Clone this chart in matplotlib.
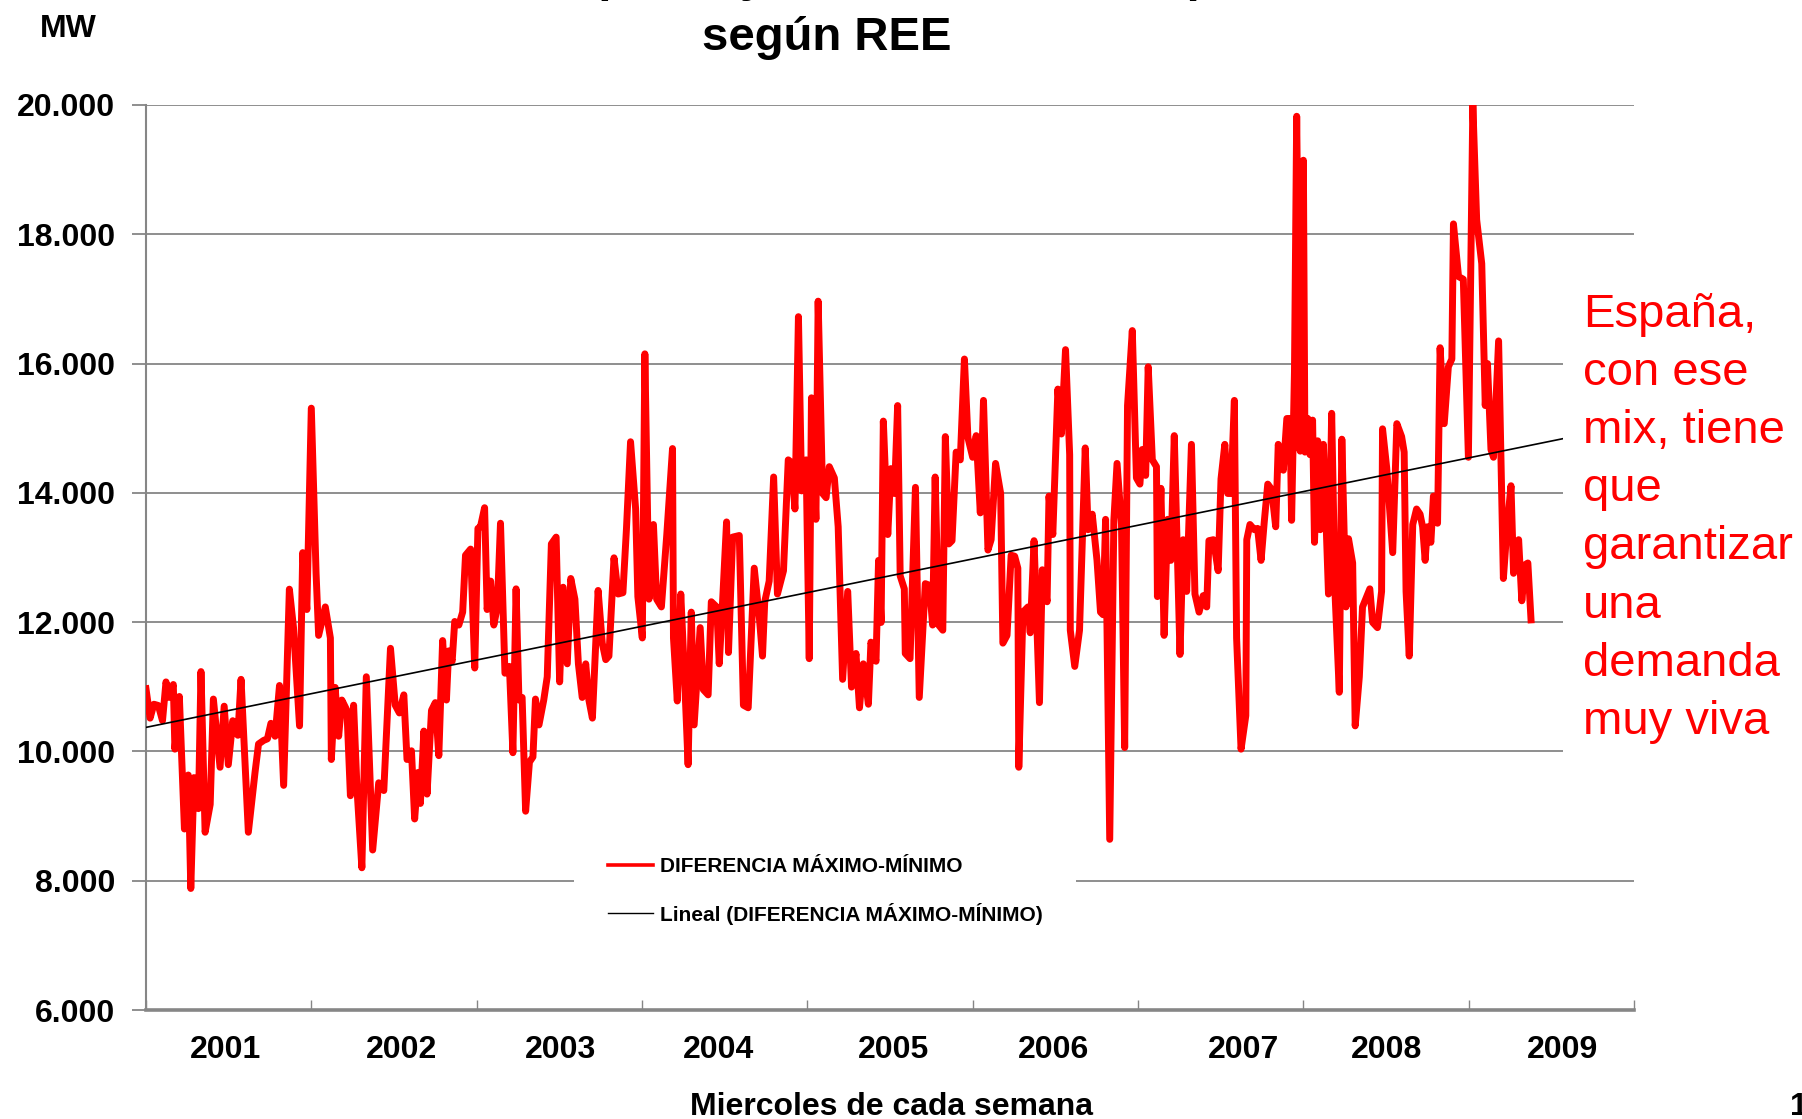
import numpy as np
import matplotlib
matplotlib.use("Agg")
import matplotlib.pyplot as plt
from matplotlib.lines import Line2D
from matplotlib.patches import Rectangle

plt.rcParams['font.family'] = ['Liberation Sans', 'DejaVu Sans']

# semana desde el 1er miercoles de 2001, diferencia maximo-minimo en MW
semana = [0.0, 1.3, 2.5, 3.9, 5.2, 6.3, 7.3, 8.6, 9.1, 10.5, 12.1, 13.3, 14.1, 15.1, 16.5, 17.3, 18.6, 20.2,
          21.2, 23.3, 24.6, 25.9, 27.3, 28.9, 29.9, 32.2, 34.3, 35.4, 37.0, 38.2, 39.3, 40.6, 42.0, 43.3,
          45.1, 46.4, 48.3, 49.3, 50.6, 52.0, 53.5, 54.3, 56.4, 58.0, 58.3, 59.5, 60.6, 61.6, 63.2, 64.3,
          65.3, 66.4, 67.9, 69.3, 71.3, 73.2, 74.8, 76.9,
          78.4, 79.7, 81.1, 82.1, 83.5, 84.5, 85.6, 86.3, 87.4, 88.4, 89.8, 91.0, 92.1, 93.3, 94.5, 95.2,
          96.3, 97.1, 98.4, 99.6, 100.5, 102.1, 103.4, 104.4, 105.2, 106.5, 107.3, 108.4, 109.4, 110.5,
          111.5, 112.9, 114.3, 115.4, 116.4, 117.3, 118.3, 119.4, 120.6, 121.7, 122.5, 123.6, 125.1, 126.2,
          127.5, 129.0, 130.1, 131.2, 132.5, 133.6, 134.9, 136.0, 137.2, 138.3, 139.3, 140.4, 142.2, 143.5,
          144.6, 145.6, 147.2, 148.5, 150.0, 151.1, 152.4,
          154.0, 154.7, 156.1, 156.9, 158.2, 159.6, 160.6, 162.1, 163.8, 165.6, 165.9, 167.1, 168.2, 169.2,
          170.5, 171.5, 172.4, 174.3, 175.3, 176.8, 177.8, 179.5, 180.3, 181.3, 182.6, 183.2, 184.5, 186.6,
          187.9, 189.4, 191.3, 192.9, 193.9, 194.6, 196.0, 197.4, 198.6, 200.5, 202.0, 203.0, 204.1, 205.2,
          206.2, 207.6, 208.6, 209.3, 210.7, 211.4, 212.8, 213.9, 214.9, 216.5, 217.7, 219.1, 220.7, 221.9,
          223.3, 224.4, 225.6, 227.2, 228.0, 229.6,
          230.4, 231.2, 231.9, 233.3, 234.3, 235.4, 236.4, 237.2, 238.5, 238.8, 240.3, 242.0, 243.2, 245.1,
          246.4, 247.4, 248.2, 249.3, 250.6, 251.4, 252.5, 253.5, 254.8, 256.1, 257.4, 258.5, 260.0, 261.1,
          262.4, 263.4, 264.8, 265.8, 267.2, 268.8, 269.5, 270.8, 272.1, 273.2, 274.2, 274.5, 275.8, 277.4,
          278.1, 279.3, 281.0, 281.9, 283.4, 284.0, 285.2, 286.8, 287.9, 289.2, 290.5, 290.7, 292.1, 293.6,
          295.4, 296.3, 297.6, 299.1, 300.2, 301.0, 301.8, 303.1, 304.4, 305.4, 306.8,
          307.8, 308.7, 310.2, 311.5, 312.6, 313.3, 314.4, 315.2, 316.5, 317.8, 318.1, 319.2, 320.2, 321.3,
          322.3, 323.4, 324.4, 325.2, 326.2, 327.3, 328.8, 329.9, 331.2, 332.5, 333.6, 334.3, 335.7, 337.2,
          338.1, 339.3, 340.2, 341.2, 342.3, 343.0, 344.4, 345.9, 346.2, 347.2, 348.6, 349.6, 350.7, 351.7,
          352.8, 354.0, 355.3, 356.1, 357.7, 358.8, 359.8, 360.3, 361.2, 361.9, 363.0, 364.0, 364.5, 365.4,
          366.1, 366.9, 367.5, 368.5, 369.3, 370.3, 371.9, 372.9, 374.0, 375.3, 376.1, 377.4, 378.2, 379.5,
          380.3, 381.6, 382.6,
          384.9, 385.8, 387.3, 388.6, 388.9, 390.2, 392.1, 393.4, 394.9, 395.7, 396.3, 397.3, 398.4, 399.6,
          400.7, 401.5, 402.3, 403.0, 404.1, 404.9, 406.2, 407.0, 408.3, 409.6, 410.7, 411.2, 412.8, 414.3,
          415.9, 417.3, 418.5, 420.1, 421.2, 421.9, 423.0, 423.8, 425.4, 426.9, 428.0, 429.3, 430.1, 431.7,
          432.7, 433.8, 434.6, 435.6]

diferencia = [10970, 10515, 10730, 10710, 10475, 11075, 10835, 11035, 10035, 10850, 8800, 9635, 7880, 9595,
              9115, 11235, 8750, 9180, 10810, 9755, 10700, 9795, 10475, 10250, 11115, 8750, 9675, 10115, 10170,
              10195, 10435, 10235, 11020, 9475, 12510, 11915, 10395, 13075, 12195, 15310, 12755, 11795, 12235,
              11755, 9875, 10990, 10235, 10795, 10635, 9315, 10715, 9395, 8200, 11155, 8475, 9515, 9395, 11595,
              10715, 10595, 10875, 9875, 10010, 8955, 9675, 9195, 10315, 9340, 10635, 10755, 9935, 11715, 10795,
              11555, 11395, 12010, 11955, 12155, 13035, 13130, 11290, 13450, 13475, 13770, 12195, 12635, 11955,
              12235, 13530, 11210, 11315, 9980, 12515, 10795, 10835, 9075, 9835, 9915, 10810, 10410, 10795,
              11155, 13210, 13315, 11075, 12540, 11355, 12675, 12355, 11355, 10835, 11355, 10795, 10515, 12490,
              11675, 11420, 11475, 12995, 12435, 12455, 13430, 14790,
              13750, 12395, 11755, 16150, 12355, 13510, 12355, 12235, 13355, 14685, 11755, 10780, 12435, 11355,
              9795, 12155, 10410, 11915, 10955, 10875, 12315, 12235, 11355, 12275, 13550, 11530, 13315, 13340,
              10715, 10675, 12835, 12075, 11475, 12315, 12635, 14245, 12435, 12795, 14510, 14470, 13750, 16725,
              14030, 14510, 11435, 15470, 13590, 16965, 13990, 13925, 14405, 14230, 13475, 11115, 12475, 10995,
              11515, 10675, 11355, 10730, 11690, 11395,
              12955, 11995, 15110, 13355, 14375, 13990, 15350, 12715, 12515, 11515, 11435, 14085, 10835, 12595,
              12570, 11955, 14245, 11955, 11875, 14870, 13210, 13260, 14630, 14510, 16070, 14855, 14550, 14885,
              13690, 15430, 13115, 13275, 14455, 13990, 11675, 11795, 13035, 13020, 12835, 9755, 12155, 12235,
              11835, 13260, 10755, 12810, 12315, 13950, 13355, 15605, 14910, 16215, 14590, 11875, 11315, 11875,
              14695, 13430, 13670, 12955, 12155, 12115, 13590, 8640, 13575, 14455, 13510,
              10060, 15350, 16510, 14230, 14135, 14670, 14270, 15950, 14510, 14405, 12395, 14070, 11795, 13590,
              12955, 14885, 12995, 11500, 13275, 12475, 14750, 12435, 12155, 12410, 12235, 13260, 13275, 12795,
              14215, 14750, 13990, 13990, 15430, 11755, 10035, 10555, 13275, 13510, 13430, 13450, 12955, 13550,
              14135, 14055, 13475, 14750, 14350, 15150, 15150, 13575, 15870, 19825, 14645, 19145, 14630, 15150,
              14590, 15125, 13235, 14805, 13430, 14750, 12435, 15230, 12395, 10915, 14830, 12235, 13290, 12915,
              10395, 11155, 12235,
              12515, 11995, 11915, 12475, 14990, 14390, 13075, 15070, 14870, 14630, 12475, 11475, 13510, 13750,
              13670, 13475, 12955, 13475, 13235, 13950, 13530, 16245, 15070, 15950, 16070, 18160, 17345, 17305,
              14550, 20000, 18225, 17545, 15350, 16000, 14670, 14550, 16350, 12675, 13430, 14110, 12755, 13275,
              12330, 12890, 12915, 12035]

anios = ['2001', '2002', '2003', '2004', '2005', '2006', '2007', '2008', '2009']
pos_anio = [24.9, 80.3, 130.4, 180.2, 235.0, 285.4, 345.2, 390.2, 445.4]
valores_y = [6000, 8000, 10000, 12000, 14000, 16000, 18000, 20000]

fig = plt.figure(figsize=(18.02, 11.19), dpi=100)
ax = fig.add_axes([0.081, 0.0974, 0.8258, 0.8088])

ax.plot(semana, diferencia, color='#ff0000', lw=5.0, solid_joinstyle='round', zorder=3)
coef = np.polyfit(semana, diferencia, 1)
xt = np.array([0, 468])
ax.plot(xt, np.polyval(coef, xt), color='black', lw=1.2, zorder=4)

ax.set_xlim(0, 468)
ax.set_ylim(6000, 20000)
ax.set_yticks(valores_y)
ax.set_yticklabels([f"{v:,}".replace(',', '.') for v in valores_y], fontsize=23, fontweight='bold')
ax.set_xticks(np.arange(0, 469, 52))
ax.set_xticklabels([])
ax.tick_params(axis='y', direction='out', length=10, width=1.3, color='#868686', pad=12)
ax.tick_params(axis='x', direction='in', length=7, width=1.0, color='#868686')
ax.yaxis.grid(True, color='#868686', lw=1.3)
ax.set_axisbelow(True)
for s in ['top', 'right']:
    ax.spines[s].set_visible(False)
ax.spines['left'].set_color('#868686')
ax.spines['left'].set_linewidth(1.5)
ax.spines['bottom'].set_color('#868686')
ax.spines['bottom'].set_linewidth(2.6)

for p, a in zip(pos_anio, anios):
    ax.text(p, -0.044, a, transform=ax.get_xaxis_transform(), ha='center', va='center',
            fontsize=23, fontweight='bold')

handles = [Line2D([], [], color='#ff0000', lw=2.6), Line2D([], [], color='black', lw=1.0)]
etiquetas = ['DIFERENCIA MÁXIMO-MÍNIMO', 'Lineal (DIFERENCIA MÁXIMO-MÍNIMO)']
leg = ax.legend(handles, etiquetas, loc='center', bbox_to_anchor=(825 / 1802, 1 - 891 / 1119),
                bbox_transform=fig.transFigure, prop={'weight': 'bold', 'size': 15}, frameon=True,
                framealpha=1, facecolor='white', edgecolor='none', fancybox=False, borderpad=1.6,
                handlelength=2.2, handletextpad=0.3, labelspacing=1.25)
leg.set_zorder(5)

# titulo (la primera linea queda cortada arriba)
fig.text(0.459, 1 + 9 / 1119, 'Diferencia entre punta y valle de demanda peninsular', ha='center',
         va='baseline', fontsize=34, fontweight='bold')
fig.text(0.459, 1 - 49.5 / 1119, 'según REE', ha='center', va='baseline', fontsize=34, fontweight='bold')
fig.text(40 / 1802, 1 - 37 / 1119, 'MW', ha='left', va='baseline', fontsize=23, fontweight='bold')
fig.text(891 / 1802, 1 - 1115 / 1119, 'Miercoles de cada semana', ha='center', va='baseline',
         fontsize=23, fontweight='bold')
fig.text(1790 / 1802, 1 - 1115 / 1119, '1', ha='left', va='baseline', fontsize=23, fontweight='bold')

caja = Rectangle((1563 / 1802, 1 - 760 / 1119), (1802 - 1563) / 1802, (760 - 270) / 1119,
                 transform=fig.transFigure, facecolor='white', edgecolor='none', zorder=2)
fig.add_artist(caja)
fig.text(1583 / 1802, 1 - 293 / 1119,
         'España,\ncon ese\nmix, tiene\nque\ngarantizar\nuna\ndemanda\nmuy viva',
         ha='left', va='top', color='#ff0000', fontsize=34, linespacing=1.415, zorder=3)

fig.savefig('out.png', dpi=100)
